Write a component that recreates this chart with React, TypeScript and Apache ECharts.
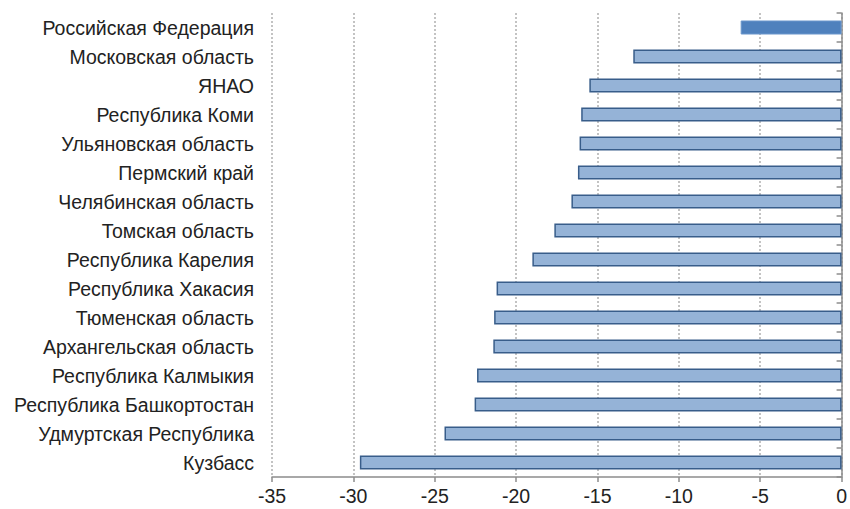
import React, { useEffect, useRef } from "react";
import * as echarts from "echarts";

const categories = [
  "Российская Федерация",
  "Московская область",
  "ЯНАО",
  "Республика Коми",
  "Ульяновская область",
  "Пермский край",
  "Челябинская область",
  "Томская область",
  "Республика Карелия",
  "Республика Хакасия",
  "Тюменская область",
  "Архангельская область",
  "Республика Калмыкия",
  "Республика Башкортостан",
  "Удмуртская Республика",
  "Кузбасс",
];

const values = [
  -6.2, -12.8, -15.5, -16.0, -16.1, -16.2, -16.6, -17.65, -19.0, -21.2, -21.35,
  -21.4, -22.4, -22.55, -24.4, -29.6,
];

const xMin = -35;
const xMax = 0;
const xStep = 5;

const FONT = "Liberation Sans, Arial, sans-serif";

export default function App() {
  const ref = useRef<HTMLDivElement>(null);

  useEffect(() => {
    if (!ref.current) return;
    const chart = echarts.init(ref.current, undefined, { renderer: "svg" });
    const data = values.map((v, i) =>
      i === 0
        ? {
            value: v,
            itemStyle: { color: "#4f81bd", borderColor: "#6a96cc", borderWidth: 1 },
          }
        : {
            value: v,
            itemStyle: { color: "#95b3d7", borderColor: "#385d8a", borderWidth: 1.5 },
          }
    );
    chart.setOption({
      animation: false,
      backgroundColor: "#ffffff",
      textStyle: { fontFamily: FONT },
      grid: { left: 272, right: 4, top: 13, bottom: 32, containLabel: false },
      xAxis: {
        type: "value",
        min: xMin,
        max: xMax,
        interval: xStep,
        axisLine: { show: true, onZero: false, lineStyle: { color: "#8c8c8c", width: 1.5 } },
        axisTick: { show: true, length: 5, lineStyle: { color: "#8c8c8c", width: 1.5 } },
        axisLabel: {
          color: "#222222",
          fontSize: 19.5,
          margin: 9,
          fontFamily: FONT,
        },
        splitLine: {
          show: true,
          lineStyle: { color: "#b0b0b0", type: [2, 2], width: 1.5 },
        },
      },
      yAxis: [
        {
          type: "category",
          data: categories,
          inverse: true,
          position: "left",
          axisLine: { show: false },
          axisTick: { show: false },
          axisLabel: {
            color: "#222222",
            fontSize: 19.5,
            margin: 18,
            fontFamily: FONT,
          },
          splitLine: { show: false },
        },
        {
          type: "category",
          data: categories,
          inverse: true,
          position: "right",
          axisLine: { show: true, lineStyle: { color: "#8c8c8c", width: 1.5 } },
          axisTick: { show: true, inside: true, length: 5, lineStyle: { color: "#8c8c8c", width: 1.5 } },
          axisLabel: { show: false },
          splitLine: { show: false },
        },
      ],
      series: [
        {
          type: "bar",
          data,
          barWidth: 14,
          yAxisIndex: 0,
        },
      ],
    });
    return () => chart.dispose();
  }, []);

  return (
    <div
      ref={ref}
      style={{ position: "absolute", left: 0, top: 0, width: 850, height: 509 }}
    />
  );
}
